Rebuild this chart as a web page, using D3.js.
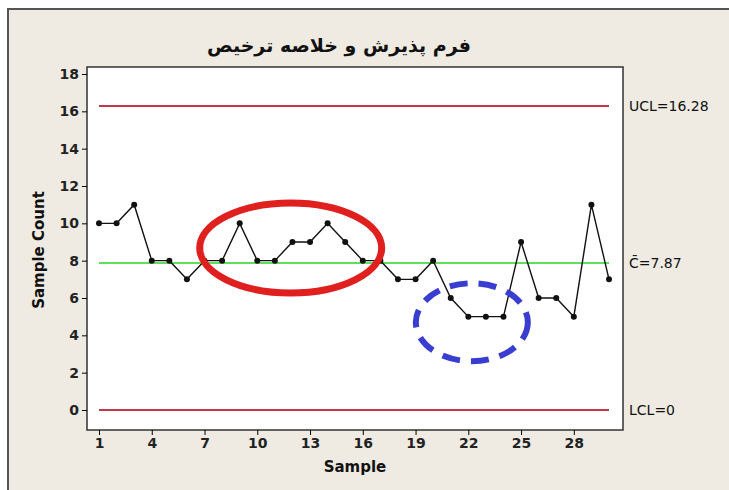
<!DOCTYPE html>
<html>
<head>
<meta charset="utf-8">
<script src="https://d3js.org/d3.v7.min.js"></script>
<style>
  body { margin: 0; background: #fff; overflow: hidden; }
  text { font-family: "DejaVu Sans", sans-serif; }
</style>
</head>
<body>
<svg width="729" height="490" id="mainsvg"></svg>
<script>
  const samples = d3.range(1, 31);
  const counts = [10, 10, 11, 8, 8, 7, 8, 8, 10, 8, 8, 9, 9, 10, 9, 8, 8, 7, 7, 8, 6, 5, 5, 5, 9, 6, 6, 5, 11, 7];
  const xTicks = [1, 4, 7, 10, 13, 16, 19, 22, 25, 28];
  const yTicks = [0, 2, 4, 6, 8, 10, 12, 14, 16, 18];
  const limits = [
    {name: 'UCL=16.28', value: 16.28, color: '#c0394a'},
    {name: 'C\u0304=7.87', value: 7.87, color: '#5ee05a'},
    {name: 'LCL=0', value: 0, color: '#c0394a'}
  ];
  const title = 'فرم پذیرش و خلاصه ترخیص';

  const svg = d3.select('#mainsvg');

  // outer panel
  svg.append('rect').attr('x', 8).attr('y', 9).attr('width', 740).attr('height', 500)
    .attr('fill', '#efebe2').attr('stroke', '#555').attr('stroke-width', 2);

  const x = d3.scaleLinear().domain([1, 30]).range([99, 609]);
  const y = d3.scaleLinear().domain([0, 18]).range([410, 74]);

  const frame = {left: 87, right: 623, top: 67, bottom: 430};
  svg.append('rect')
    .attr('x', frame.left).attr('y', frame.top)
    .attr('width', frame.right - frame.left).attr('height', frame.bottom - frame.top)
    .attr('fill', '#fff').attr('stroke', '#333').attr('stroke-width', 1.5);

  // axes
  const yAxis = d3.axisLeft(y).tickValues(yTicks).tickSize(5).tickPadding(3);
  const yg = svg.append('g').attr('transform', `translate(${frame.left},0)`).call(yAxis);
  yg.select('.domain').remove();
  yg.selectAll('text').attr('font-size', '14px').attr('font-weight', 'bold').attr('fill', '#222');

  const xAxis = d3.axisBottom(x).tickValues(xTicks).tickSize(5).tickPadding(3);
  const xg = svg.append('g').attr('transform', `translate(0,${frame.bottom})`).call(xAxis);
  xg.select('.domain').remove();
  xg.selectAll('text').attr('font-size', '14px').attr('font-weight', 'bold').attr('fill', '#222');

  // control limits
  limits.forEach(d => {
    svg.append('line')
      .attr('x1', x(1)).attr('x2', x(30))
      .attr('y1', y(d.value)).attr('y2', y(d.value))
      .attr('stroke', d.color).attr('stroke-width', 2);
    svg.append('text').text(d.name)
      .attr('x', frame.right + 6).attr('y', y(d.value) + 5)
      .attr('font-size', '14px').attr('fill', '#111');
  });

  // data line and points
  const line = d3.line().x((d, i) => x(samples[i])).y(d => y(d));
  svg.append('path').datum(counts)
    .attr('d', line).attr('fill', 'none').attr('stroke', '#111').attr('stroke-width', 1.4);
  svg.selectAll('.pt').data(counts).join('circle')
    .attr('cx', (d, i) => x(samples[i])).attr('cy', d => y(d))
    .attr('r', 3).attr('fill', '#111');

  // annotation ellipses
  svg.append('ellipse')
    .attr('cx', x(11.9)).attr('cy', y(8.68)).attr('rx', 91).attr('ry', 45)
    .attr('fill', 'none').attr('stroke', '#e0201e').attr('stroke-width', 7);
  svg.append('ellipse')
    .attr('cx', x(22.2)).attr('cy', y(4.7)).attr('rx', 56).attr('ry', 39)
    .attr('fill', 'none').attr('stroke', '#3a3ed0').attr('stroke-width', 6)
    .attr('stroke-dasharray', '18 11');

  // titles
  svg.append('text').text(title)
    .attr('x', 339).attr('y', 52).attr('text-anchor', 'middle')
    .attr('font-size', '19px').attr('font-weight', 'bold').attr('fill', '#111');
  svg.append('text').text('Sample')
    .attr('x', 355).attr('y', 472).attr('text-anchor', 'middle')
    .attr('font-size', '15px').attr('font-weight', 'bold').attr('fill', '#111');
  svg.append('text').text('Sample Count')
    .attr('transform', `translate(44,250) rotate(-90)`).attr('text-anchor', 'middle')
    .attr('font-size', '15px').attr('font-weight', 'bold').attr('fill', '#111');
</script>
</body>
</html>
